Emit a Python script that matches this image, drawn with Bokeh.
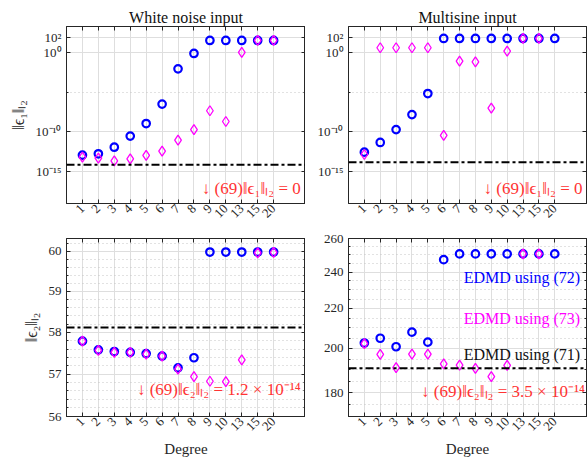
from math import pi, nan
from bokeh.plotting import figure
from bokeh.layouts import column, row
from bokeh.models import Range1d, FixedTicker, LinearAxis, LogAxis, Label, Span
from bokeh.embed import file_html
from bokeh.resources import INLINE

# Polynomial degrees (categorical x axis)
degrees = [1, 2, 3, 4, 5, 6, 7, 8, 9, 10, 13, 15, 20]
deg_labels = [str(d) for d in degrees]

# ||eps1|| for white noise input
wn_e1_72 = [1.1e-13, 1.6e-13, 1.1e-12, 2.8e-11, 1.1e-9, 3.2e-7, 9.5e-3, 0.85, 38, 38, 38, 38, 38]
wn_e1_73 = [6e-14, 4.5e-14, 2e-14, 3.7e-14, 1e-13, 3.5e-13, 8.5e-12, 1.9e-10, 4.6e-8, 2e-9, 1.15, 38, 38]
# ||eps1|| for multisine input
ms_e1_72 = [2.6e-13, 4.4e-12, 1.9e-10, 1.5e-8, 7e-6, 68, 68, 68, 68, 68, 68, 68, 68]
ms_e1_73 = [1.3e-13, 4.5, 4.5, 4.5, 4.5, 3.4e-11, 0.09, 0.074, 1e-7, 1.65, 68, 68, nan]
# ||eps2|| for white noise input
wn_e2_72 = [57.79, 57.58, 57.54, 57.52, 57.49, 57.43, 57.15, 57.39, 59.98, 59.98, 59.98, 59.98, 59.98]
wn_e2_73 = [57.79, 57.57, 57.52, 57.52, 57.48, 57.43, 57.12, 56.94, 56.83, 56.82, 57.34, 59.96, 59.97]
# ||eps2|| for multisine input
ms_e2_72 = [202.6, 204.9, 200.8, 207.9, 203.0, 247.2, 250.6, 250.6, 250.6, 250.6, 250.6, 250.6, 250.6]
ms_e2_73 = [202.3, 197.2, 191.0, 197.3, 197.3, 192.8, 192.2, 190.7, 187.0, 192.1, 250.6, 250.6, nan]
# EDMD using (71) reference levels: [wn eps1, ms eps1, wn eps2, ms eps2]
edmd71 = [6.3e-15, 1.4e-14, 58.12, 190.8]

FONT = "Liberation Serif"
AX = "#262626"
BLUE = "#0000ff"
MAG = "#ff00ff"
RED = "#ff3333"

xpos = list(range(1, len(degrees) + 1))
xlabels = {i: s for i, s in zip(xpos, deg_labels)}


def make_panel(width, height, borders, y_range, yticks, ylabels, yminor,
               title=None, ylabel=None, xlabel=None):
    left, right, top, bottom = borders
    p = figure(width=width, height=height, y_axis_type="log",
               x_range=Range1d(0, 15), y_range=Range1d(*y_range),
               output_backend="svg", toolbar_location=None,
               min_border_left=left, min_border_right=right,
               min_border_top=top, min_border_bottom=bottom,
               background_fill_color="white", border_fill_color="white")
    p.outline_line_color = AX
    p.outline_line_width = 1

    xt = FixedTicker(ticks=xpos, minor_ticks=[])
    yt = FixedTicker(ticks=yticks, minor_ticks=yminor)

    b_ax = p.below[0]
    l_ax = p.left[0]
    b_ax.ticker = xt
    b_ax.major_label_overrides = xlabels
    b_ax.major_label_orientation = pi / 4
    b_ax.major_label_standoff = 3
    l_ax.ticker = yt
    l_ax.major_label_overrides = ylabels
    l_ax.major_label_standoff = 5

    # tick-only axes on the right and top, closing the box
    r_ax = LogAxis(ticker=yt, major_label_standoff=0,
                   major_label_overrides={v: "" for v in yticks})
    t_ax = LinearAxis(ticker=xt, major_label_standoff=0,
                      major_label_overrides={v: "" for v in xpos})
    p.add_layout(r_ax, "right")
    p.add_layout(t_ax, "above")

    for ax in (b_ax, l_ax, r_ax, t_ax):
        ax.axis_line_color = AX
        ax.major_tick_line_color = AX
        ax.minor_tick_line_color = AX
        ax.major_tick_in = 4
        ax.major_tick_out = 0
        ax.minor_tick_in = 2
        ax.minor_tick_out = 0
        ax.major_label_text_font = FONT
        ax.major_label_text_font_size = "13px"
        ax.major_label_text_color = AX
        ax.axis_label_text_font = FONT
        ax.axis_label_text_font_style = "normal"
        ax.axis_label_text_font_size = "15px"
        ax.axis_label_text_color = AX
    # the box-closing axes carry no labels, keep them from taking room
    r_ax.major_label_text_font_size = "1px"
    t_ax.major_label_text_font_size = "1px"

    if ylabel:
        l_ax.axis_label = ylabel
        l_ax.axis_label_standoff = 6
        l_ax.axis_label_text_font_size = "16px"
    if xlabel:
        b_ax.axis_label = xlabel
        b_ax.axis_label_standoff = 4

    p.xgrid.grid_line_color = "#dedede"
    p.ygrid.grid_line_color = "#dedede"
    p.ygrid.minor_grid_line_color = "#c4c4c4"
    p.ygrid.minor_grid_line_dash = "1 3"

    if title:
        p.title.text = title
        p.title.align = "center"
        p.title.text_font = FONT
        p.title.text_font_size = "16px"
        p.title.text_font_style = "normal"
        p.title.text_color = "#111111"
        p.title.standoff = 2
    return p


def add_series(p, y72, y73, level):
    p.add_layout(Span(location=level, dimension="width", line_color="black",
                      line_width=2, line_dash="8 3 3 3"))
    p.scatter(xpos, y72, marker="circle", size=7.5, fill_color=None,
              line_color=BLUE, line_width=2.2)
    p.scatter(xpos, y73, marker="diamond", size=10, fill_color=None,
              line_color=MAG, line_width=1.3)


def note(p, x, y, text, color=RED, size="17px"):
    p.add_layout(Label(x=x, y=y, text=text, text_align="right", text_baseline="middle",
                       text_font=FONT, text_font_size=size, text_color=color))


top_ticks = [1e-15, 1e-10, 1.0, 100.0]
top_labels = {1e-15: "10⁻¹⁵", 1e-10: "10⁻¹⁰", 1.0: "10⁰", 100.0: "10²"}
top_minor = [1e-5]
top_range = (10 ** -19.1, 10 ** 3.35)

bl_ticks = [56.0, 57.0, 58.0, 59.0, 60.0]
bl_labels = {v: str(int(v)) for v in bl_ticks}
bl_minor = [round(56 + 0.2 * k, 1) for k in range(0, 23) if k % 5 != 0]

br_ticks = [180.0, 200.0, 220.0, 240.0, 260.0]
br_labels = {v: str(int(v)) for v in br_ticks}
br_minor = [170.0 + 5 * k for k in range(0, 19) if (170 + 5 * k) % 20 != 0]

p1 = make_panel(305, 232, (66, 0, 26, 29), top_range, top_ticks, top_labels, top_minor,
                title="White noise input", ylabel="‖ϵ₁‖ₗ₂")
add_series(p1, wn_e1_72, wn_e1_73, edmd71[0])
note(p1, 14.7, 10 ** -17.2, "↓ (69)‖ϵ₁‖ₗ₂ = 0")

p2 = make_panel(282, 232, (43, 1, 26, 29), top_range, top_ticks, top_labels, top_minor,
                title="Multisine input")
add_series(p2, ms_e1_72, ms_e1_73, edmd71[1])
note(p2, 14.75, 10 ** -17.2, "↓ (69)‖ϵ₁‖ₗ₂ = 0")

p3 = make_panel(305, 233, (66, 0, 6, 49), (56.0, 60.32), bl_ticks, bl_labels, bl_minor,
                ylabel="‖ϵ₂‖ₗ₂", xlabel="Degree")
add_series(p3, wn_e2_72, wn_e2_73, edmd71[2])
note(p3, 14.7, 56.63, "↓ (69)‖ϵ₂‖ₗ₂ = 1.2 × 10⁻¹⁴")

p4 = make_panel(282, 233, (43, 1, 6, 49), (170.0, 260.0), br_ticks, br_labels, br_minor,
                xlabel="Degree")
add_series(p4, ms_e2_72, ms_e2_73, edmd71[3])
note(p4, 14.9, 180.5, "↓ (69)‖ϵ₂‖ₗ₂ = 3.5 × 10⁻¹⁴")
note(p4, 14.6, 237.0, "EDMD using (72)", BLUE, "16px")
note(p4, 14.6, 215.0, "EDMD using (73)", MAG, "16px")
note(p4, 14.6, 197.2, "EDMD using (71)", "#111111", "16px")

layout = column(row(p1, p2), row(p3, p4))
open("out.html", "w").write(file_html(layout, INLINE))
